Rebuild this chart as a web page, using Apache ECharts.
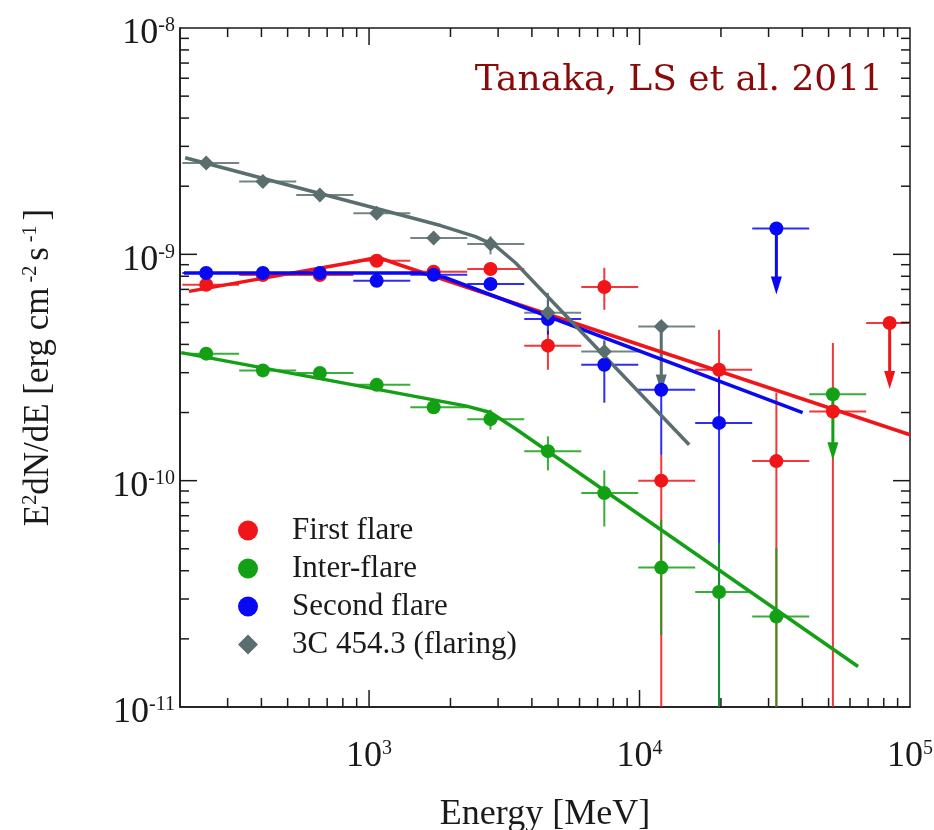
<!DOCTYPE html>
<html>
<head>
<meta charset="utf-8">
<script src="https://cdn.jsdelivr.net/npm/echarts@6/dist/echarts.min.js"></script>
<style>
html, body { margin: 0; padding: 0; background: #ffffff; }
#chart { width: 934px; height: 830px; }
</style>
</head>
<body>
<div id="chart"></div>
<script>
// Energy bins [MeV]: representative energy and bin edges
const energy = [250, 405, 658, 1067, 1733, 2812, 4585, 7410, 12030, 19680, 32060, 51870, 84100];
const binLo  = [204, 331, 538, 875, 1421, 2307, 3748, 6088, 9890, 16065, 26100, 42400, 68870];
const binHi  = [331, 538, 875, 1421, 2307, 3748, 6088, 9890, 16065, 26100, 42400, 68870, 111900];

// E^2 dN/dE [erg cm^-2 s^-1]; lo = 0 means the error bar reaches zero
const firstFlux = [7.34e-10, 8.1e-10, 8.1e-10, 9.37e-10, 8.37e-10, 8.61e-10, 3.95e-10, 7.17e-10, 1.00e-10, 3.09e-10, 1.22e-10, 2.02e-10, 4.97e-10];
const firstLo   = [null, null, null, null, null, null, 3.09e-10, 5.69e-10, 0, 2.0e-10, 0, 0, null];
const firstHi   = [null, null, null, null, null, null, 5.03e-10, 8.72e-10, 1.30e-10, 4.64e-10, 2.45e-10, 4.06e-10, null];
const firstUL   = [0, 0, 0, 0, 0, 0, 0, 0, 0, 0, 0, 0, 1];

const interFlux = [3.64e-10, 3.07e-10, 2.99e-10, 2.65e-10, 2.11e-10, 1.87e-10, 1.35e-10, 8.81e-11, 4.13e-11, 3.22e-11, 2.51e-11, 2.41e-10];
const interLo   = [null, null, null, null, null, 1.68e-10, 1.11e-10, 6.27e-11, 2.08e-11, 0, 0, null];
const interHi   = [null, null, null, null, null, 2.06e-10, 1.57e-10, 1.11e-10, 6.72e-11, 5.32e-11, 5.05e-11, null];
const interUL   = [0, 0, 0, 0, 0, 0, 0, 0, 0, 0, 0, 1];

const secondFlux = [8.27e-10, 8.27e-10, 8.27e-10, 7.64e-10, 8.13e-10, 7.39e-10, 5.18e-10, 3.25e-10, 2.52e-10, 1.80e-10, 1.30e-9];
const secondLo   = [null, null, null, null, null, null, 4.42e-10, 2.21e-10, 1.30e-10, 0, null];
const secondHi   = [null, null, null, null, null, null, 6.63e-10, 4.12e-10, 3.60e-10, 3.09e-10, null];
const secondUL   = [0, 0, 0, 0, 0, 0, 0, 0, 0, 0, 1];

const blazarFlux = [2.53e-9, 2.10e-9, 1.83e-9, 1.52e-9, 1.18e-9, 1.11e-9, 5.52e-10, 3.72e-10, 4.80e-10];
const blazarLo   = [null, null, null, null, null, 1.0e-9, 4.6e-10, 3.3e-10, null];
const blazarHi   = [null, null, null, null, null, 1.2e-9, 6.76e-10, 4.19e-10, null];
const blazarUL   = [0, 0, 0, 0, 0, 0, 0, 0, 1];

// Spectral model curves (vertices)
const firstModelE  = [216, 893, 1077, 1309, 100000];
const firstModelF  = [6.86e-10, 9.27e-10, 9.71e-10, 8.95e-10, 1.595e-10];
const interModelE  = [202, 2275, 2812, 3477, 64270];
const interModelF  = [3.68e-10, 2.14e-10, 2.00e-10, 1.696e-10, 1.51e-11];
const secondModelE = [207, 1551, 1919, 40090];
const secondModelF = [8.27e-10, 8.26e-10, 7.88e-10, 2.00e-10];
const blazarModelE = [209, 1839, 2476, 2935, 3477, 4122, 15260];
const blazarModelF = [2.67e-9, 1.34e-9, 1.197e-9, 1.09e-9, 9.18e-10, 7.41e-10, 1.44e-10];

// Axis tick values
const xMajorTicks = [1e3, 1e4];
const yMajorTicks = [1e-10, 1e-9];
const mantissas = [2, 3, 4, 5, 6, 7, 8, 9];
const xDecades = [1e2, 1e3, 1e4];
const yDecades = [1e-11, 1e-10, 1e-9];

const names = ['First flare', 'Inter-flare', 'Second flare', '3C 454.3 (flaring)'];
const colors = ['#f01518', '#14a014', '#0808f5', '#5a6e70'];

const SERIF = '"Liberation Serif", "Times New Roman", serif';

function rows(flux, lo, hi, ul) {
  return flux.map((f, i) => [energy[i], f, binLo[i], binHi[i],
    lo[i] === null ? '-' : lo[i], hi[i] === null ? '-' : hi[i], ul[i]]);
}
function curve(E, F) { return E.map((e, i) => [e, F[i]]); }

function errorRender(color) {
  return function (params, api) {
    const cs = params.coordSys;
    const left = cs.x, right = cs.x + cs.width, top = cs.y, bottom = cs.y + cs.height;
    const e = api.value(0), f = api.value(1);
    const c = api.coord([e, f]);
    const l = api.coord([api.value(2), f]);
    const r = api.coord([api.value(3), f]);
    const lo = api.value(4), hi = api.value(5), ul = api.value(6);
    const style = { stroke: color, lineWidth: 2, opacity: 0.85 };
    const ch = [];
    ch.push({ type: 'line', shape: { x1: Math.max(l[0], left), y1: c[1], x2: Math.min(r[0], right), y2: c[1] }, style: style });
    if (ul) {
      const len = 66, head = 18, hw = 5.5;
      ch.push({ type: 'line', shape: { x1: c[0], y1: c[1], x2: c[0], y2: c[1] + len - head + 2 }, style: { stroke: color, lineWidth: 3 } });
      ch.push({ type: 'polygon', shape: { points: [[c[0] - hw, c[1] + len - head], [c[0] + hw, c[1] + len - head], [c[0], c[1] + len]] }, style: { fill: color } });
    } else if (!isNaN(lo) && !isNaN(hi)) {
      const yHi = api.coord([e, hi])[1];
      const yLo = lo > 0 ? api.coord([e, lo])[1] : bottom;
      ch.push({ type: 'line', shape: { x1: c[0], y1: Math.max(yHi, top), x2: c[0], y2: Math.min(yLo, bottom) }, style: style });
    }
    return { type: 'group', children: ch };
  };
}

function tickRender(params, api) {
  const cs = params.coordSys;
  const left = cs.x, right = cs.x + cs.width, top = cs.y, bottom = cs.y + cs.height;
  const st = { stroke: '#1a1a1a', lineWidth: 1.5 };
  const ch = [];
  const major = 17, minor = 9;
  const xMinor = [], yMinor = [];
  xDecades.forEach(d => mantissas.forEach(m => { const v = m * d; if (v > 200 && v < 1e5) xMinor.push(v); }));
  yDecades.forEach(d => mantissas.forEach(m => yMinor.push(m * d)));
  function xt(v, len) {
    const x = api.coord([v, 1e-10])[0];
    ch.push({ type: 'line', shape: { x1: x, y1: bottom, x2: x, y2: bottom - len }, style: st });
    ch.push({ type: 'line', shape: { x1: x, y1: top, x2: x, y2: top + len }, style: st });
  }
  function yt(v, len) {
    const y = api.coord([1000, v])[1];
    ch.push({ type: 'line', shape: { x1: left, y1: y, x2: left + len, y2: y }, style: st });
    ch.push({ type: 'line', shape: { x1: right, y1: y, x2: right - len, y2: y }, style: st });
  }
  xMajorTicks.forEach(v => xt(v, major));
  xMinor.forEach(v => xt(v, minor));
  yMajorTicks.forEach(v => yt(v, major));
  yMinor.forEach(v => yt(v, minor));
  return { type: 'group', children: ch };
}

function powLabel(v) {
  const ex = Math.round(Math.log10(v));
  if (Math.abs(Math.log10(v) - ex) > 1e-6) return '';
  return '{b|10}{s|' + ex + '}';
}
const labelRich = {
  b: { fontFamily: SERIF, fontSize: 36, color: '#1a1a1a', lineHeight: 36, verticalAlign: 'bottom', padding: [12, 0, 0, 0] },
  s: { fontFamily: SERIF, fontSize: 20, color: '#1a1a1a', lineHeight: 20, verticalAlign: 'top' }
};

const fluxes = [[firstFlux, firstLo, firstHi, firstUL], [interFlux, interLo, interHi, interUL],
                [secondFlux, secondLo, secondHi, secondUL], [blazarFlux, blazarLo, blazarHi, blazarUL]];
const models = [[firstModelE, firstModelF], [interModelE, interModelF], [secondModelE, secondModelF], [blazarModelE, blazarModelF]];
const symbols = ['circle', 'circle', 'circle', 'diamond'];
const errOrder = [0, 2, 1, 3];

const series = [];
errOrder.forEach(k => {
  series.push({
    type: 'custom', name: names[k] + ' errors', silent: true, z: 2,
    renderItem: errorRender(colors[k]),
    encode: { x: 0, y: 1 },
    data: rows.apply(null, fluxes[k])
  });
});
models.forEach((m, k) => {
  series.push({
    type: 'line', name: names[k] + ' model', silent: true, z: 3,
    showSymbol: false, symbol: 'none',
    lineStyle: { color: colors[k], width: 3.5 },
    data: curve(m[0], m[1])
  });
});
fluxes.forEach((fl, k) => {
  series.push({
    type: 'scatter', name: names[k], z: 4,
    symbol: symbols[k], symbolSize: k === 3 ? 15 : 14,
    itemStyle: { color: colors[k], opacity: 1 },
    data: fl[0].map((f, i) => [energy[i], f])
  });
});
series.push({
  type: 'custom', name: 'ticks', silent: true, z: 5,
  renderItem: tickRender, data: [[1000, 1e-9]]
});

const chart = echarts.init(document.getElementById('chart'), null, { renderer: 'canvas' });
chart.setOption({
  animation: false,
  backgroundColor: '#ffffff',
  title: {
    text: 'Tanaka, LS et al. 2011',
    right: 46, top: 58,
    textStyle: { fontFamily: '"DejaVu Serif", serif', fontSize: 36, fontWeight: 'normal', color: '#8a0a0a' }
  },
  legend: {
    orient: 'vertical', left: 233, top: 510,
    itemWidth: 20, itemHeight: 20, itemGap: 7,
    textStyle: { fontFamily: SERIF, fontSize: 31, color: '#1a1a1a', padding: [0, 0, 0, 29] },
    data: names.map((n, k) => ({ name: n, icon: symbols[k] })),
    selectedMode: false
  },
  grid: {
    left: 180, right: 24, top: 28, bottom: 123,
    containLabel: false, outerBoundsMode: 'none',
    show: true, borderColor: '#1a1a1a', borderWidth: 1.5, backgroundColor: 'transparent'
  },
  xAxis: {
    type: 'log', min: 200, max: 100000, logBase: 10,
    name: 'Energy [MeV]', nameLocation: 'middle', nameGap: 90,
    nameTextStyle: { fontFamily: SERIF, fontSize: 36, color: '#1a1a1a' },
    axisLine: { show: true, lineStyle: { color: '#1a1a1a', width: 1.5 } },
    axisTick: { show: false }, splitLine: { show: false }, minorTick: { show: false },
    axisLabel: { margin: 32, formatter: powLabel, rich: labelRich, showMinLabel: true, showMaxLabel: true }
  },
  yAxis: {
    type: 'log', min: 1e-11, max: 1e-8, logBase: 10,
    name: '{b|E}{s|2}{b|dN/dE [erg cm}{s| -2 }{b|s}{s| -1 }{b|]}',
    nameLocation: 'middle', nameGap: 124, nameRotate: 90,
    nameTextStyle: {
      fontFamily: SERIF, fontSize: 35, color: '#1a1a1a',
      rich: {
        b: { fontFamily: SERIF, fontSize: 35, color: '#1a1a1a', lineHeight: 35, verticalAlign: 'bottom', padding: [12, 0, 0, 0] },
        s: { fontFamily: SERIF, fontSize: 20, color: '#1a1a1a', lineHeight: 20, verticalAlign: 'top' }
      }
    },
    axisLine: { show: true, lineStyle: { color: '#1a1a1a', width: 1.5 } },
    axisTick: { show: false }, splitLine: { show: false }, minorTick: { show: false },
    axisLabel: { margin: 5, padding: [12, 0, 0, 0], formatter: powLabel, rich: labelRich, showMinLabel: true, showMaxLabel: true }
  },
  series: series
});
</script>
</body>
</html>
